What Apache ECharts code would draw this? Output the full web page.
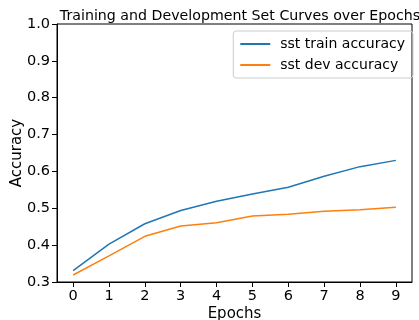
<!DOCTYPE html>
<html><head><meta charset="utf-8">
<script src="https://cdn.jsdelivr.net/npm/echarts@6/dist/echarts.min.js"></script>
<style>html,body{margin:0;padding:0;background:#fff}#c{width:419px;height:320px}</style>
</head><body><div id="c"></div>
<script>
const epochs = [0,1,2,3,4,5,6,7,8,9];
const trainAcc = [0.331,0.403,0.458,0.494,0.519,0.539,0.557,0.587,0.613,0.630];
const devAcc = [0.319,0.371,0.424,0.452,0.461,0.479,0.484,0.492,0.496,0.503];
const yTicks = [0.3,0.4,0.5,0.6,0.7,0.8,0.9,1.0];
const font = 'DejaVu Sans';
const chart = echarts.init(document.getElementById('c'));
chart.setOption({
  animation:false,
  textStyle:{fontFamily:font},
  title:{text:'Training and Development Set Curves over Epochs',left:235,top:4,textAlign:'center',
    textStyle:{fontFamily:font,fontSize:14.2,fontWeight:'normal',color:'#000'}},
  grid:{left:57,right:7,top:24,bottom:38,show:true,borderColor:'#000',borderWidth:1,backgroundColor:'transparent',
    outerBoundsMode:'none',containLabel:false},
  legend:{right:6,top:31,orient:'vertical',itemWidth:30,itemHeight:2,itemGap:7,padding:[6,8,6,7],
    borderColor:'#ccc',borderWidth:1,borderRadius:3,icon:'rect',
    textStyle:{fontFamily:font,fontSize:14,color:'#000',padding:[0,0,0,5]},
    data:['sst train accuracy','sst dev accuracy']},
  xAxis:{type:'value',min:-0.45,max:9.45,name:'Epochs',nameLocation:'middle',nameGap:25,nameMoveOverlap:false,
    nameTextStyle:{fontFamily:font,fontSize:15,color:'#000'},
    axisLine:{show:true,onZero:false,lineStyle:{color:'#000'}},
    axisTick:{show:true,length:5,customValues:epochs,lineStyle:{color:'#000'}},
    axisLabel:{customValues:epochs,fontFamily:font,fontSize:14.5,color:'#000',margin:7},
    splitLine:{show:false}},
  yAxis:{type:'value',min:0.3,max:1.0,name:'Accuracy',nameLocation:'middle',nameGap:32,nameMoveOverlap:false,
    nameTextStyle:{fontFamily:font,fontSize:15,color:'#000'},
    axisLine:{show:true,onZero:false,lineStyle:{color:'#000'}},
    axisTick:{show:true,length:5,customValues:yTicks,lineStyle:{color:'#000'}},
    axisLabel:{customValues:yTicks,fontFamily:font,fontSize:14.5,color:'#000',margin:7,
      formatter:v=>v.toFixed(1)},
    splitLine:{show:false}},
  series:[
    {name:'sst train accuracy',type:'line',data:epochs.map((e,i)=>[e,trainAcc[i]]),
     showSymbol:false,lineStyle:{color:'#1f77b4',width:1.5},itemStyle:{color:'#1f77b4'}},
    {name:'sst dev accuracy',type:'line',data:epochs.map((e,i)=>[e,devAcc[i]]),
     showSymbol:false,lineStyle:{color:'#ff7f0e',width:1.5},itemStyle:{color:'#ff7f0e'}}
  ]
});
</script></body></html>
